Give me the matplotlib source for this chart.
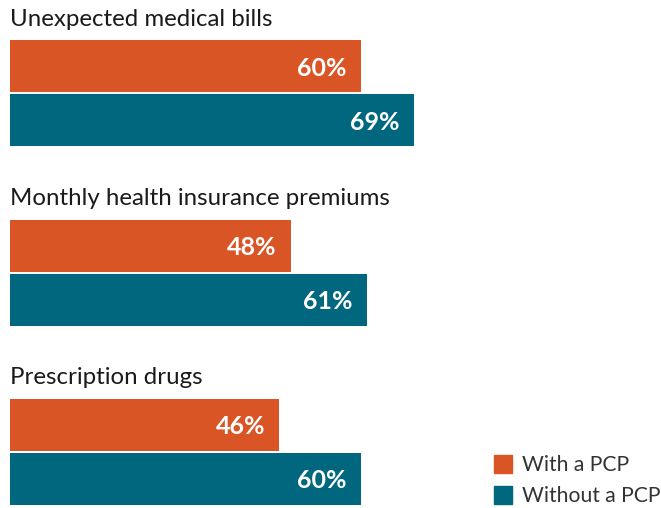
import matplotlib.pyplot as plt
from matplotlib.patches import Rectangle

categories = ['Unexpected medical bills', 'Monthly health insurance premiums', 'Prescription drugs']
with_pcp = [60, 48, 46]
without_pcp = [69, 61, 60]
series_names = ['With a PCP', 'Without a PCP']

orange = '#D95525'
teal = '#00677F'

plt.rcParams['font.family'] = ['Lato', 'DejaVu Sans']

W, H = 661, 508
fig = plt.figure(figsize=(W / 100, H / 100), dpi=100)
ax = fig.add_axes([0, 0, 1, 1])
ax.axis('off')

# pixel layout: x=0% at px 10, 5.85 px per percent; y in pixels from top
px = 5.85
ax.set_xlim(-10 / px, (W - 10) / px)
ax.set_ylim(H, 0)

bar_h = 52
step = 179.5
for i, cat in enumerate(categories):
    yo = 66 + step * i
    yt = yo + 54
    ax.barh(yo, with_pcp[i], height=bar_h, color=orange, left=0)
    ax.barh(yt, without_pcp[i], height=bar_h, color=teal, left=0)
    ax.text(0, yo - 47, cat, fontsize=17.3, color='#1a1a1a', va='center', ha='left')
    ax.text(with_pcp[i] - 14 / px, yo + 2, f'{with_pcp[i]}%', fontsize=18,
            fontweight='bold', color='white', ha='right', va='center')
    ax.text(without_pcp[i] - 14 / px, yt + 2, f'{without_pcp[i]}%', fontsize=18,
            fontweight='bold', color='white', ha='right', va='center')

# legend
for j, (name, col) in enumerate(zip(series_names, [orange, teal])):
    yc = 464 + 31 * j
    x0 = (494 - 10) / px
    ax.add_patch(Rectangle((x0, yc - 9), 18 / px, 18, color=col))
    ax.text((522 - 10) / px, yc + 1, name, fontsize=15.2, color='#333333',
            va='center', ha='left')

fig.savefig('out.png', dpi=100)
